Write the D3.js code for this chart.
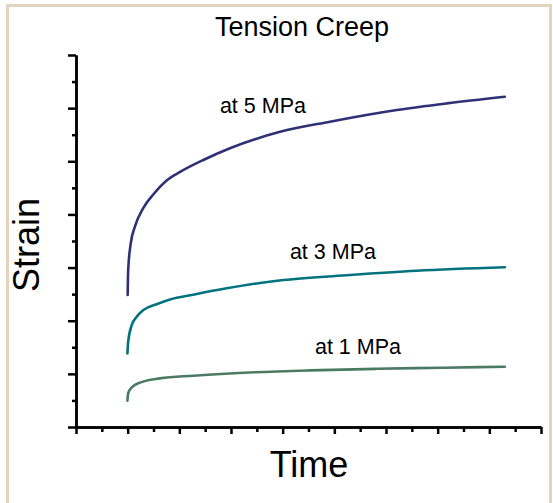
<!DOCTYPE html>
<html>
<head>
<meta charset="utf-8">
<script src="https://cdn.jsdelivr.net/npm/d3@7"></script>
<style>
  body { margin: 0; background: #fff; }
  text { font-family: "Liberation Sans", Arial, Helvetica, sans-serif; fill: #000; }
</style>
</head>
<body>
<div id="chart"></div>
<script>
// values (arbitrary units: time 0-18, strain 0-14)
const time5 = [2.0, 2.02, 2.12, 2.28, 2.61, 2.99, 3.51, 4.03, 4.93, 5.96, 7.9, 9.83, 12.42, 14.35, 16.6];
const strain5 = [4.97, 5.91, 6.91, 7.54, 8.25, 8.75, 9.28, 9.6, 10.05, 10.49, 11.11, 11.49, 11.93, 12.18, 12.43];

const time3 = [1.99, 2.02, 2.16, 2.35, 2.61, 3.12, 3.64, 4.54, 5.83, 7.12, 8.03, 10.61, 13.19, 16.6];
const strain3 = [2.77, 3.21, 3.84, 4.15, 4.4, 4.62, 4.8, 4.98, 5.22, 5.42, 5.53, 5.72, 5.88, 6.01];

const time1 = [1.99, 2.02, 2.16, 2.48, 3.25, 4.54, 6.48, 9.06, 11.64, 14.22, 16.6];
const strain1 = [0.99, 1.27, 1.49, 1.67, 1.83, 1.93, 2.04, 2.13, 2.19, 2.23, 2.27];

const seriesNames = ['at 5 MPa', 'at 3 MPa', 'at 1 MPa'];
const seriesColors = ['#2f3176', '#00737e', '#4a7b62'];
// where each label sits, in data units (left edge, baseline)
const labelTime = [5.57, 8.28, 9.25];
const labelStrain = [11.82, 6.32, 2.75];

const xTicks = d3.range(0, 19);
const yTicks = d3.range(0, 15);

const series = [
  d3.zip(time5, strain5),
  d3.zip(time3, strain3),
  d3.zip(time1, strain1),
];

const dimensions = {
  width: 553,
  height: 503,
  margin: { top: 55, bottom: 76, left: 76, right: 12 },
};
dimensions.ctrWidth = dimensions.width - dimensions.margin.left - dimensions.margin.right;
dimensions.ctrHeight = dimensions.height - dimensions.margin.top - dimensions.margin.bottom;

const svg = d3
  .select('#chart')
  .append('svg')
  .attr('width', dimensions.width)
  .attr('height', dimensions.height);

// beige frame
svg
  .append('rect')
  .attr('x', 7.5)
  .attr('y', 5.5)
  .attr('width', 543)
  .attr('height', 505)
  .attr('fill', 'none')
  .attr('stroke', '#e2d3bd')
  .attr('stroke-width', 3);

const ctr = svg
  .append('g')
  .attr('transform', `translate(${dimensions.margin.left}, ${dimensions.margin.top})`);

const xScale = d3.scaleLinear().domain([0, 18]).range([0, dimensions.ctrWidth]);
const yScale = d3.scaleLinear().domain([0, 14]).range([dimensions.ctrHeight, 0]);

// axes: long ticks on even values, short ones between
const styleAxis = (g) => {
  g.select('.domain').attr('stroke-width', 2.5);
  g.selectAll('.tick line').attr('stroke-width', 2.5);
};

ctr
  .append('g')
  .attr('transform', `translate(0, ${dimensions.ctrHeight})`)
  .call(d3.axisBottom(xScale).tickValues(xTicks.filter((d) => d % 2 === 1)).tickSize(5).tickSizeOuter(0).tickFormat(''))
  .call(styleAxis);
ctr
  .append('g')
  .attr('transform', `translate(0, ${dimensions.ctrHeight})`)
  .call(d3.axisBottom(xScale).tickValues(xTicks.filter((d) => d % 2 === 0)).tickSize(7).tickSizeOuter(0).tickFormat(''))
  .call(styleAxis);

ctr
  .append('g')
  .call(d3.axisLeft(yScale).tickValues(yTicks.filter((d) => d % 2 === 1)).tickSize(4).tickSizeOuter(0).tickFormat(''))
  .call(styleAxis);
ctr
  .append('g')
  .call(d3.axisLeft(yScale).tickValues(yTicks.filter((d) => d % 2 === 0)).tickSize(8).tickSizeOuter(0).tickFormat(''))
  .call(styleAxis);

// curves
const line = d3
  .line()
  .x((d) => xScale(d[0]))
  .y((d) => yScale(d[1]))
  .curve(d3.curveMonotoneX);

ctr
  .selectAll('path.creep')
  .data(series)
  .join('path')
  .attr('class', 'creep')
  .attr('d', line)
  .attr('fill', 'none')
  .attr('stroke', (d, i) => seriesColors[i])
  .attr('stroke-width', 2.6)
  .attr('stroke-linecap', 'round');

ctr
  .selectAll('text.label')
  .data(seriesNames)
  .join('text')
  .attr('class', 'label')
  .attr('x', (d, i) => xScale(labelTime[i]))
  .attr('y', (d, i) => yScale(labelStrain[i]))
  .style('font-size', '21.5px')
  .text((d) => d);

// titles
svg
  .append('text')
  .attr('x', 302)
  .attr('y', 36)
  .attr('text-anchor', 'middle')
  .style('font-size', '27px')
  .text('Tension Creep');

svg
  .append('text')
  .attr('x', 309)
  .attr('y', 477)
  .attr('text-anchor', 'middle')
  .style('font-size', '36px')
  .text('Time');

svg
  .append('text')
  .attr('transform', 'translate(39, 245) rotate(-90)')
  .attr('text-anchor', 'middle')
  .style('font-size', '36px')
  .text('Strain');
</script>
</body>
</html>
